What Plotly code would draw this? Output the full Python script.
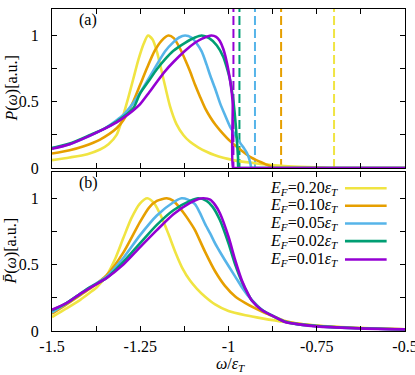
import plotly.graph_objects as go

# ---------------- data ----------------
ef_labels = ["0.20", "0.10", "0.05", "0.02", "0.01"]
colors = ["#F0E442", "#E69F00", "#56B4E9", "#009E73", "#9400D3"]
thresholds = [-0.701, -0.851, -0.925, -0.969, -0.986]
threshold_y = [0.0, 1.2]

# panel (a)
a_x_020 = [-1.5, -1.45, -1.40, -1.364, -1.34, -1.317, -1.30, -1.285, -1.27, -1.255, -1.24, -1.228, -1.215,
           -1.203, -1.185, -1.166, -1.147, -1.128, -1.109, -1.085, -1.062, -1.04, -1.015, -0.986, -0.95,
           -0.92, -0.89, -0.85, -0.80, -0.75, -0.71, -0.70, -0.695, -0.5]
a_y_020 = [0.06, 0.08, 0.105, 0.14, 0.18, 0.25, 0.38, 0.52, 0.67, 0.82, 0.94, 1.0, 0.97,
           0.88, 0.68, 0.47, 0.33, 0.25, 0.198, 0.155, 0.123, 0.098, 0.077, 0.06, 0.045,
           0.035, 0.026, 0.017, 0.01, 0.005, 0.001, 0.0, 0.0, 0.0]
a_x_010 = [-1.5, -1.45, -1.41, -1.364, -1.317, -1.298, -1.27, -1.25, -1.23, -1.21, -1.19, -1.17, -1.155,
           -1.137, -1.12, -1.109, -1.095, -1.081, -1.066, -1.052, -1.038, -1.024, -0.996, -0.967, -0.939,
           -0.911, -0.89, -0.875, -0.87, -0.865, -0.5]
a_y_010 = [0.11, 0.135, 0.165, 0.215, 0.30, 0.36, 0.50, 0.63, 0.76, 0.88, 0.96, 1.0, 0.98,
           0.90, 0.80, 0.73, 0.63, 0.54, 0.45, 0.385, 0.33, 0.285, 0.205, 0.14, 0.085,
           0.048, 0.024, 0.006, 0.0, 0.0, 0.0]
a_x_005 = [-1.5, -1.45, -1.392, -1.35, -1.317, -1.298, -1.27, -1.25, -1.225, -1.203, -1.18, -1.156, -1.14,
           -1.123, -1.105, -1.09, -1.076, -1.062, -1.052, -1.038, -1.024, -1.01, -0.996, -0.98, -0.967,
           -0.955, -0.948, -0.942, -0.938, -0.935, -0.93, -0.5]
a_y_005 = [0.15, 0.18, 0.245, 0.30, 0.36, 0.40, 0.49, 0.57, 0.68, 0.78, 0.88, 0.95, 0.985,
           1.0, 0.985, 0.94, 0.88, 0.78, 0.70, 0.60, 0.49, 0.40, 0.315, 0.245, 0.19,
           0.145, 0.115, 0.075, 0.035, 0.0, 0.0, 0.0]
a_x_002 = [-1.5, -1.45, -1.392, -1.35, -1.317, -1.27, -1.251, -1.225, -1.203, -1.18, -1.156, -1.123, -1.095,
           -1.076, -1.055, -1.033, -1.015, -1.005, -0.996, -0.986, -0.98, -0.976, -0.973, -0.972, -0.968, -0.5]
a_y_002 = [0.15, 0.185, 0.25, 0.30, 0.35, 0.45, 0.56, 0.66, 0.745, 0.82, 0.885, 0.945, 0.985,
           1.0, 0.98, 0.925, 0.84, 0.76, 0.67, 0.50, 0.34, 0.20, 0.08, 0.0, 0.0, 0.0]
a_x_001 = [-1.5, -1.45, -1.392, -1.364, -1.317, -1.27, -1.251, -1.225, -1.203, -1.18, -1.156, -1.123, -1.095,
           -1.076, -1.06, -1.048, -1.035, -1.025, -1.015, -1.005, -0.996, -0.99, -0.988, -0.987, -0.982, -0.5]
a_y_001 = [0.145, 0.18, 0.245, 0.28, 0.345, 0.435, 0.48, 0.57, 0.65, 0.73, 0.80, 0.885, 0.945,
           0.975, 0.993, 1.0, 0.99, 0.96, 0.90, 0.80, 0.67, 0.55, 0.48, 0.0, 0.0, 0.0]

# panel (b)
b_x_020 = [-1.5, -1.459, -1.42, -1.392, -1.373, -1.345, -1.32, -1.298, -1.275, -1.251, -1.23, -1.21, -1.19,
           -1.17, -1.15, -1.13, -1.109, -1.09, -1.067, -1.038, -1.0, -0.952, -0.905, -0.84, -0.75, -0.65, -0.5]
b_y_020 = [0.105, 0.17, 0.235, 0.29, 0.33, 0.42, 0.55, 0.70, 0.85, 0.96, 1.0, 0.96, 0.86,
           0.73, 0.59, 0.47, 0.38, 0.32, 0.26, 0.20, 0.15, 0.118, 0.095, 0.068, 0.042, 0.026, 0.013]
b_x_010 = [-1.5, -1.459, -1.42, -1.392, -1.345, -1.298, -1.251, -1.225, -1.203, -1.175, -1.156, -1.13, -1.109,
           -1.095, -1.067, -1.038, -1.01, -0.981, -0.952, -0.924, -0.896, -0.868, -0.84, -0.80, -0.75, -0.65, -0.5]
b_y_010 = [0.13, 0.20, 0.27, 0.32, 0.42, 0.59, 0.82, 0.93, 0.98, 1.0, 0.98, 0.90, 0.82,
           0.76, 0.60, 0.45, 0.34, 0.26, 0.21, 0.17, 0.135, 0.105, 0.075, 0.055, 0.04, 0.025, 0.013]
b_x_005 = [-1.5, -1.459, -1.42, -1.392, -1.345, -1.298, -1.251, -1.203, -1.156, -1.133, -1.115, -1.095, -1.081,
           -1.067, -1.052, -1.038, -1.024, -1.01, -0.981, -0.962, -0.943, -0.934, -0.905, -0.868, -0.84, -0.80,
           -0.75, -0.65, -0.5]
b_y_005 = [0.14, 0.21, 0.28, 0.33, 0.41, 0.55, 0.72, 0.87, 0.97, 1.0, 0.99, 0.955, 0.89,
           0.81, 0.735, 0.66, 0.595, 0.533, 0.41, 0.33, 0.26, 0.235, 0.16, 0.105, 0.07, 0.05,
           0.037, 0.023, 0.012]
b_x_002 = [-1.5, -1.459, -1.42, -1.392, -1.345, -1.298, -1.251, -1.203, -1.156, -1.109, -1.086, -1.062,
           -1.045, -1.024, -1.0, -0.981, -0.962, -0.943, -0.934, -0.905, -0.868, -0.84, -0.80, -0.75, -0.65, -0.5]
b_y_002 = [0.155, 0.21, 0.28, 0.33, 0.40, 0.52, 0.66, 0.80, 0.91, 0.98, 1.0, 0.98,
           0.935, 0.834, 0.66, 0.50, 0.37, 0.27, 0.23, 0.158, 0.105, 0.07, 0.05, 0.037, 0.023, 0.012]
b_x_001 = [-1.5, -1.459, -1.42, -1.392, -1.345, -1.298, -1.251, -1.203, -1.156, -1.109, -1.085, -1.071,
           -1.052, -1.038, -1.024, -1.0, -0.981, -0.962, -0.943, -0.934, -0.905, -0.868, -0.84, -0.80, -0.75,
           -0.65, -0.5]
b_y_001 = [0.16, 0.21, 0.28, 0.325, 0.40, 0.50, 0.63, 0.76, 0.88, 0.965, 0.995, 1.0,
           0.99, 0.95, 0.885, 0.71, 0.533, 0.38, 0.27, 0.23, 0.156, 0.105, 0.068, 0.05, 0.035,
           0.022, 0.012]

x_tickvals = [-1.5, -1.375, -1.25, -1.125, -1.0, -0.875, -0.75, -0.625, -0.5]
x_ticktext = ["-1.5", "", "-1.25", "", "-1", "", "-0.75", "", "-0.5"]
y_tickvals = [0, 0.25, 0.5, 0.75, 1.0]
y_ticktext = ["0", "", "0.5", "", "1"]

panel_a = [(a_x_020, a_y_020), (a_x_010, a_y_010), (a_x_005, a_y_005), (a_x_002, a_y_002), (a_x_001, a_y_001)]
panel_b = [(b_x_020, b_y_020), (b_x_010, b_y_010), (b_x_005, b_y_005), (b_x_002, b_y_002), (b_x_001, b_y_001)]

FONT = "Liberation Serif"

fig = go.Figure()

# dashed threshold lines (panel a)
for t, c in zip(thresholds, colors):
    fig.add_trace(go.Scatter(x=[t, t], y=threshold_y, mode="lines", xaxis="x", yaxis="y",
                             line=dict(color=c, width=2, dash="9px,4px"), showlegend=False,
                             hoverinfo="skip"))

for (xs, ys), c in zip(panel_a, colors):
    fig.add_trace(go.Scatter(x=xs, y=ys, mode="lines", xaxis="x", yaxis="y",
                             line=dict(color=c, width=2.6, shape="spline", smoothing=0.7),
                             showlegend=False))

for (xs, ys), c in zip(panel_b, colors):
    fig.add_trace(go.Scatter(x=xs, y=ys, mode="lines", xaxis="x2", yaxis="y2",
                             line=dict(color=c, width=2.6, shape="spline", smoothing=0.7),
                             showlegend=False))

axis_common = dict(showline=True, linecolor="black", linewidth=1, mirror="ticks",
                   ticks="inside", ticklen=5, tickwidth=1, tickcolor="black",
                   showgrid=False, zeroline=False, automargin=False,
                   ticklabeloverflow="allow",
                   tickfont=dict(family=FONT, size=16, color="black"))

fig.update_layout(
    template="none",
    width=415, height=375, autosize=False,
    margin=dict(l=52, r=10, t=9, b=44),
    paper_bgcolor="white", plot_bgcolor="white",
    showlegend=False,
    font=dict(family=FONT, size=16, color="black"),
    xaxis=dict(domain=[0, 1], anchor="y", range=[-1.5, -0.5], tickvals=x_tickvals,
               showticklabels=False, **axis_common),
    yaxis=dict(domain=[0.506, 1], anchor="x", range=[0, 1.2], tickvals=y_tickvals,
               ticktext=y_ticktext, ticklabelstandoff=9, **axis_common),
    xaxis2=dict(domain=[0, 1], anchor="y2", range=[-1.5, -0.5], tickvals=x_tickvals,
                ticktext=x_ticktext, ticklabelstandoff=1, **axis_common),
    yaxis2=dict(domain=[0, 0.4947], anchor="x2", range=[0, 1.2], tickvals=y_tickvals,
                ticktext=y_ticktext, ticklabelstandoff=9, **axis_common),
)

tfont = dict(family=FONT, size=16, color="black")
ann = []
ann.append(dict(text="(a)", xref="x domain", yref="y domain", x=0.102, y=0.93,
                xanchor="center", yanchor="middle", showarrow=False, font=tfont))
ann.append(dict(text="(b)", xref="x2 domain", yref="y2 domain", x=0.102, y=0.929,
                xanchor="center", yanchor="middle", showarrow=False, font=tfont))
ann.append(dict(text="<i>P</i>(<i>ω</i>)[a.u.]", xref="paper", yref="paper", x=-0.116, y=0.753,
                xanchor="center", yanchor="middle", textangle=-90, showarrow=False, font=tfont))
ann.append(dict(text="<i>P̄</i>(<i>ω</i>)[a.u.]", xref="paper", yref="paper", x=-0.116, y=0.247,
                xanchor="center", yanchor="middle", textangle=-90, showarrow=False, font=tfont))
ann.append(dict(text="<i>ω</i>/<i>ε</i><sub><i>T</i></sub>", xref="paper", yref="paper",
                x=0.505, y=-0.104, xanchor="center", yanchor="middle", showarrow=False, font=tfont))

legend_y = [0.896, 0.786, 0.675, 0.564, 0.449]
shapes = []
for lab, c, ly in zip(ef_labels, colors, legend_y):
    ann.append(dict(text="<i>E</i><sub><i>F</i></sub>=" + lab + "<i>ε</i><sub><i>T</i></sub>",
                    xref="x2 domain", yref="y2 domain", x=0.816, y=ly, xanchor="right",
                    yanchor="middle", showarrow=False, font=tfont))
    shapes.append(dict(type="line", xref="x2 domain", yref="y2 domain", x0=0.830, x1=0.948,
                       y0=ly, y1=ly, line=dict(color=c, width=2.6)))

fig.update_layout(annotations=ann, shapes=shapes)

fig.write_html("out.html", config={"displayModeBar": False},
               post_script="document.body.style.margin='0';document.body.style.padding='0';")
